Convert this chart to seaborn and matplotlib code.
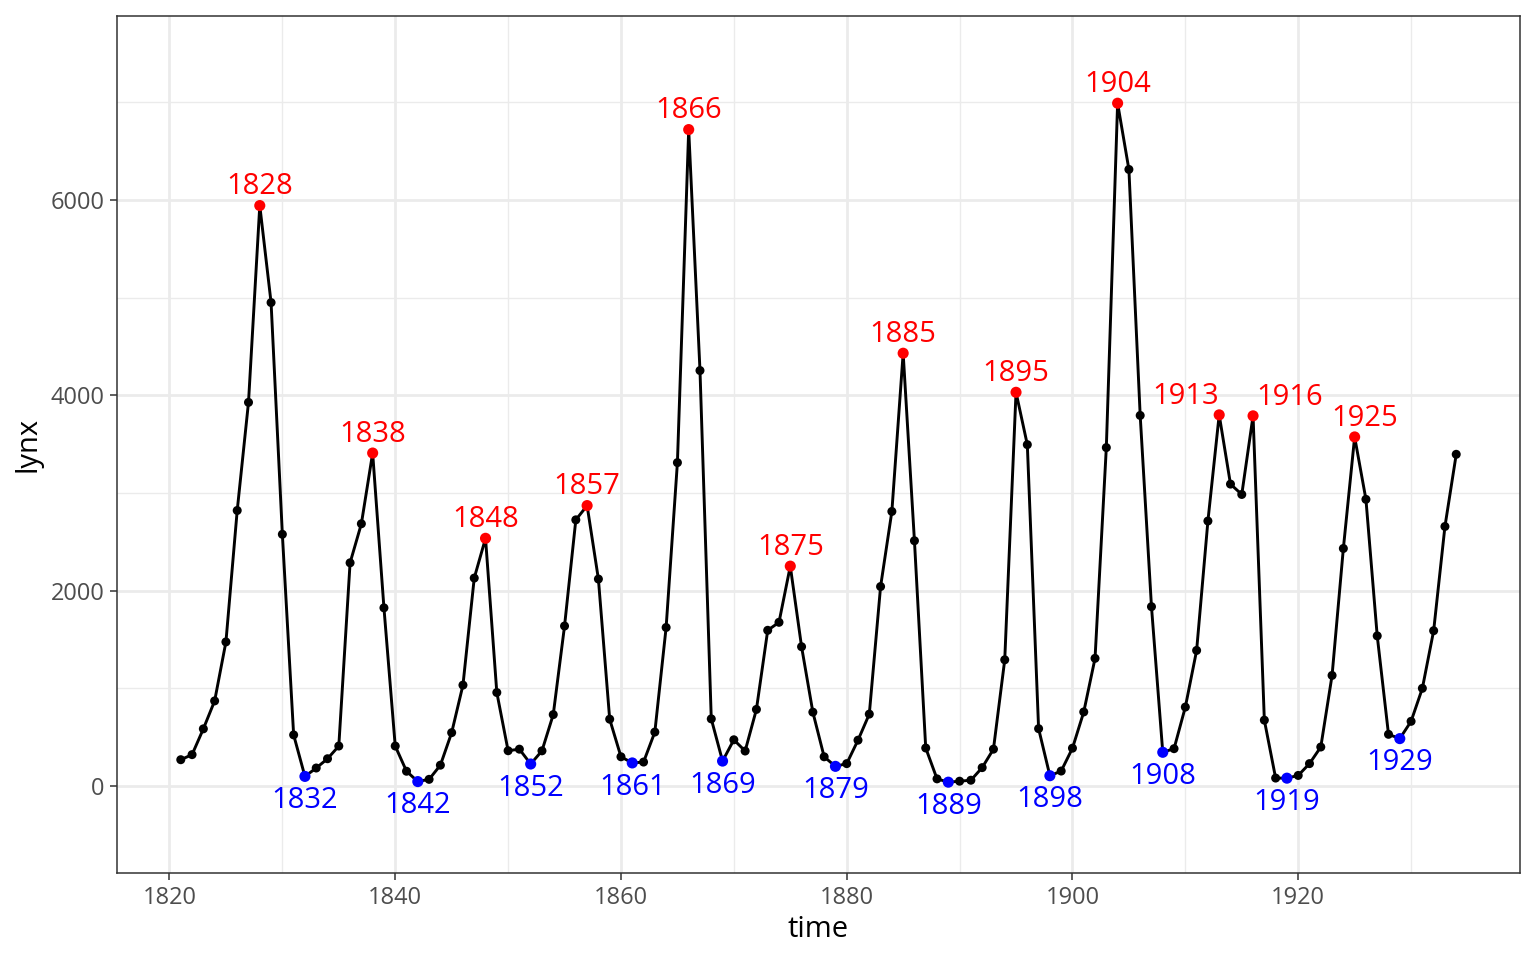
import matplotlib
matplotlib.use("Agg")
import matplotlib.pyplot as plt
import seaborn as sns
import pandas as pd
from matplotlib.ticker import MultipleLocator

years = list(range(1821, 1935))
lynx = [269, 321, 585, 871, 1475, 2821, 3928, 5943, 4950, 2577, 523, 98, 184, 279, 409,
        2285, 2685, 3409, 1824, 409, 151, 45, 68, 213, 546, 1033, 2129, 2536, 957, 361,
        377, 225, 360, 731, 1638, 2725, 2871, 2119, 684, 299, 236, 245, 552, 1623, 3311,
        6721, 4254, 687, 255, 473, 358, 784, 1594, 1676, 2251, 1426, 756, 299, 201, 229,
        469, 736, 2042, 2811, 4431, 2511, 389, 73, 39, 49, 59, 188, 377, 1292, 4031,
        3495, 587, 105, 153, 387, 758, 1307, 3465, 6991, 6313, 3794, 1836, 345, 382,
        808, 1388, 2713, 3800, 3091, 2985, 3790, 674, 81, 80, 108, 229, 399, 1132, 2432,
        3574, 2935, 1537, 529, 485, 662, 1000, 1590, 2657, 3396]
peak_years = [1828, 1838, 1848, 1857, 1866, 1875, 1885, 1895, 1904, 1913, 1916, 1925]
trough_years = [1832, 1842, 1852, 1861, 1869, 1879, 1889, 1898, 1908, 1919, 1929]
x_ticks = [1820, 1840, 1860, 1880, 1900, 1920]
y_ticks = [0, 2000, 4000, 6000]

# label placement (repelled labels for close peaks)
label_align = {1913: ("right", 0), 1916: ("left", 2.5), 1925: ("center", 7)}

df = pd.DataFrame({"time": years, "lynx": lynx})
peaks = df[df["time"].isin(peak_years)]
troughs = df[df["time"].isin(trough_years)]

sns.set_theme(style="white")
plt.rcParams["font.family"] = ["Open Sans", "DejaVu Sans"]

fig = plt.figure(figsize=(15.36, 9.6), dpi=100)
ax = fig.add_axes([117/1536, 1-873/960, (1520-117)/1536, (873-16)/960])

ax.set_xlim(1815.35, 1939.65)
ax.set_ylim(-891, 7884)

ax.set_xticks(x_ticks)
ax.set_yticks(y_ticks)
ax.xaxis.set_minor_locator(MultipleLocator(10))
ax.yaxis.set_minor_locator(MultipleLocator(1000))
ax.grid(which="major", color="#EBEBEB", linewidth=2.0, zorder=0)
ax.grid(which="minor", color="#EBEBEB", linewidth=1.0, zorder=0)
ax.set_axisbelow(True)
for s in ax.spines.values():
    s.set_color("#333333")
    s.set_linewidth(1.1)

sns.lineplot(data=df, x="time", y="lynx", ax=ax, color="black", linewidth=2.1, zorder=2)
sns.scatterplot(data=df, x="time", y="lynx", ax=ax, color="black", s=42,
                edgecolor="none", zorder=3)
sns.scatterplot(data=peaks, x="time", y="lynx", ax=ax, color="red", s=64,
                edgecolor="none", zorder=4)
sns.scatterplot(data=troughs, x="time", y="lynx", ax=ax, color="blue", s=64,
                edgecolor="none", zorder=4)

for t, v in zip(peaks["time"], peaks["lynx"]):
    ha, dx = label_align.get(t, ("center", 0))
    ax.annotate(str(t), (t, v), xytext=(dx, 3), textcoords="offset points",
                ha=ha, va="bottom", color="red", fontsize=21)
for t, v in zip(troughs["time"], troughs["lynx"]):
    ax.annotate(str(t), (t, v), xytext=(0, -7), textcoords="offset points",
                ha="center", va="top", color="blue", fontsize=21)

ax.tick_params(axis="both", which="major", length=5, width=1.1, color="#333333",
               labelsize=17, labelcolor="#4D4D4D", pad=4,
               bottom=True, left=True)
ax.tick_params(axis="both", which="minor", length=0)
ax.set_xlabel("time", fontsize=21, color="black", labelpad=4)
ax.set_ylabel("lynx", fontsize=21, color="black", labelpad=6)

fig.savefig("out.png", dpi=100, facecolor="white")
